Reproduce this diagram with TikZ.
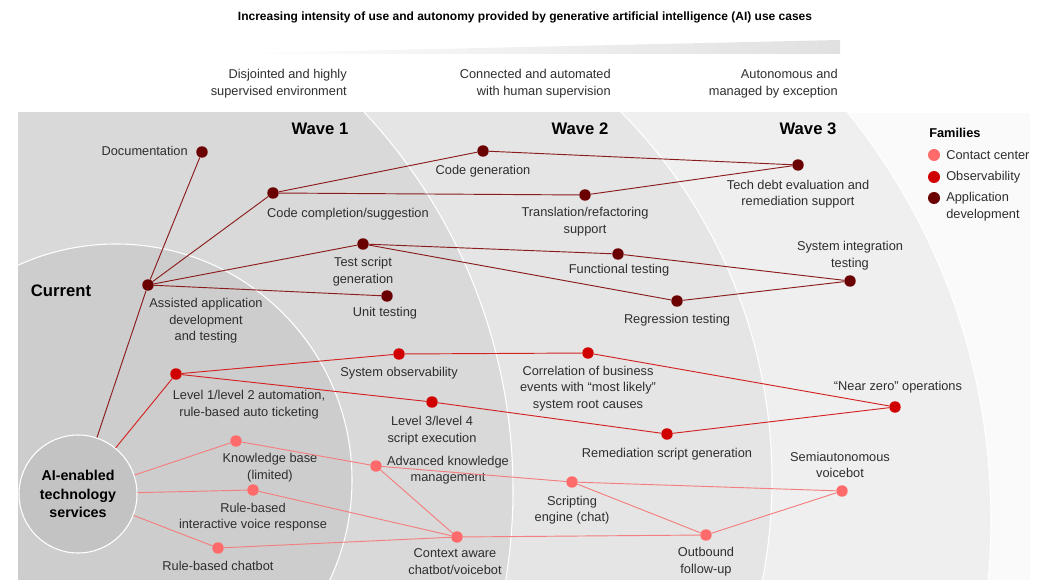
\documentclass[tikz,border=0pt]{standalone}
\usepackage{fontspec}
\setmainfont{Liberation Sans}
\usetikzlibrary{positioning}
\definecolor{ccdot}{HTML}{FF6B6B}
\definecolor{obsdot}{HTML}{D00000}
\definecolor{appdot}{HTML}{6B0000}
\definecolor{ccline}{HTML}{F47E7E}
\definecolor{obsline}{HTML}{D42222}
\definecolor{appline}{HTML}{8A1C1C}
\definecolor{txt}{HTML}{2E2E2E}
\definecolor{band}{HTML}{FAFAFA}
\definecolor{wavethree}{HTML}{EFEFEF}
\definecolor{wavetwo}{HTML}{E5E5E5}
\definecolor{waveone}{HTML}{D9D9D9}
\definecolor{current}{HTML}{CDCDCD}
\definecolor{aicore}{HTML}{C3C3C3}
\begin{document}
\begin{tikzpicture}[x=0.75pt,y=-0.75pt,
    dot/.style={circle,inner sep=0pt,minimum size=8.6pt},
    app node/.style={dot,fill=appdot},
    obs node/.style={dot,fill=obsdot},
    cc node/.style={dot,fill=ccdot},
    app link/.style={draw=appline,line width=0.7pt},
    obs link/.style={draw=obsline,line width=0.7pt},
    cc link/.style={draw=ccline,line width=0.7pt},
    lbl/.style={inner sep=0pt,align=center,text=txt,font=\fontsize{9.6}{12.4}\selectfont},
    wave/.style={inner sep=0pt,font=\fontsize{12.5}{14}\selectfont\bfseries},
    zone/.style={draw=white,line width=0.8pt}
  ]
  \useasboundingbox (0,0) rectangle (1042,580);

  % background zones
  \fill[band] (18,113) rectangle (1030,580);
  \begin{scope}
    \clip (18,113) rectangle (1030,580);
    \filldraw[zone,fill=wavethree] (340,520) circle[radius=651];
    \filldraw[zone,fill=wavetwo] (248,480) circle[radius=524];
    \filldraw[zone,fill=waveone] (-41,490) circle[radius=554];
    \filldraw[zone,fill=current] (116,480) circle[radius=236];
  \end{scope}
  \shade[left color=white,right color=black!12] (210,54) -- (840,40) -- (840,54) -- cycle;

  \node[inner sep=0pt,font=\fontsize{9}{11}\selectfont\bfseries] (title) at (525,17)
    {Increasing intensity of use and autonomy provided by generative artificial intelligence (AI) use cases};
  \node[lbl,align=right,anchor=east] (hone) at (347,83.5) {Disjointed and highly\\supervised environment};
  \node[lbl,align=right,anchor=east] (htwo) at (611,83.5) {Connected and automated\\with human supervision};
  \node[lbl,align=right,anchor=east] (hthree) at (838,83.5) {Autonomous and\\managed by exception};

  \node[wave] (wone) at (320,129) {Wave 1};
  \node[wave] (wtwo) at (580,129) {Wave 2};
  \node[wave] (wthree) at (808,129) {Wave 3};
  \node[wave] (cur) at (61,291) {Current};

  \node[circle,fill=aicore,draw=white,line width=0.8pt,minimum size=88.5pt,inner sep=0pt,
        align=center,font=\fontsize{10.7}{13.9}\selectfont\bfseries] (ai) at (78,494)
    {AI-enabled\\technology\\services};

  % application development
  \node[app node] (doc) at (202,152) {};
  \node[app node] (aadt) at (148,285) {};
  \node[app node] (ccs) at (273,193) {};
  \node[app node] (cg) at (483,151) {};
  \node[app node] (trs) at (585,195) {};
  \node[app node] (tde) at (798,165) {};
  \node[app node] (tsg) at (363,244) {};
  \node[app node] (ut) at (387,296) {};
  \node[app node] (ft) at (618,254) {};
  \node[app node] (rt) at (677,301) {};
  \node[app node] (sit) at (850,281) {};

  \node[lbl,anchor=east] (doc-l) at (188,151) {Documentation};
  \node[lbl] (aadt-l) at (206,321) {Assisted application\\development\\and testing};
  \node[lbl] (ccs-l) at (348,214) {Code completion/suggestion};
  \node[lbl] (cg-l) at (483,171) {Code generation};
  \node[lbl] (trs-l) at (585,221.5) {Translation/refactoring\\support};
  \node[lbl] (tde-l) at (798,194) {Tech debt evaluation and\\remediation support};
  \node[lbl] (tsg-l) at (363,271.5) {Test script\\generation};
  \node[lbl] (ut-l) at (385,313) {Unit testing};
  \node[lbl] (ft-l) at (619,270) {Functional testing};
  \node[lbl] (rt-l) at (677,320) {Regression testing};
  \node[lbl] (sit-l) at (850,255.5) {System integration\\testing};

  \path
   (ai) edge[app link] (aadt)
   (aadt) edge[app link] (doc)
   (aadt) edge[app link] (ccs)
   (aadt) edge[app link] (tsg)
   (aadt) edge[app link] (ut)
   (ccs) edge[app link] (cg)
   (ccs) edge[app link] (trs)
   (cg) edge[app link] (tde)
   (trs) edge[app link] (tde)
   (tsg) edge[app link] (ft)
   (tsg) edge[app link] (rt)
   (ft) edge[app link] (sit)
   (rt) edge[app link] (sit);

  % observability
  \node[obs node] (lot) at (176,374) {};
  \node[obs node] (so) at (399,354) {};
  \node[obs node] (ltf) at (432,402) {};
  \node[obs node] (cbe) at (588,353) {};
  \node[obs node] (nzo) at (895,407) {};
  \node[obs node] (rsg) at (667,434) {};

  \node[lbl] (lot-l) at (249,404.5) {Level 1/level 2 automation,\\rule-based auto ticketing};
  \node[lbl] (so-l) at (399,373) {System observability};
  \node[lbl] (ltf-l) at (432,430.5) {Level 3/level 4\\script execution};
  \node[lbl] (cbe-l) at (588,388.5) {Correlation of business\\events with “most likely”\\system root causes};
  \node[lbl] (nzo-l) at (898,387) {“Near zero” operations};
  \node[lbl] (rsg-l) at (667,454) {Remediation script generation};

  \path
   (ai) edge[obs link] (lot)
   (lot) edge[obs link] (so)
   (lot) edge[obs link] (ltf)
   (so) edge[obs link] (cbe)
   (ltf) edge[obs link] (rsg)
   (cbe) edge[obs link] (nzo)
   (rsg) edge[obs link] (nzo);

  % contact center
  \node[cc node] (kb) at (236,441) {};
  \node[cc node] (ivr) at (253,490) {};
  \node[cc node] (rbc) at (218,548) {};
  \node[cc node] (akm) at (376,466) {};
  \node[cc node] (cac) at (457,537) {};
  \node[cc node] (se) at (572,482) {};
  \node[cc node] (ofu) at (706,535) {};
  \node[cc node] (sav) at (842,491) {};

  \node[lbl] (kb-l) at (270,467.5) {Knowledge base\\(limited)};
  \node[lbl] (ivr-l) at (253,517) {Rule-based\\interactive voice response};
  \node[lbl] (rbc-l) at (218,566) {Rule-based chatbot};
  \node[lbl] (akm-l) at (448,470) {Advanced knowledge\\management};
  \node[lbl] (cac-l) at (455,561.5) {Context aware\\chatbot/voicebot};
  \node[lbl] (se-l) at (572,510) {Scripting\\engine (chat)};
  \node[lbl] (ofu-l) at (706,561.5) {Outbound\\follow-up};
  \node[lbl] (sav-l) at (840,465) {Semiautonomous\\voicebot};

  \path
   (ai) edge[cc link] (kb)
   (ai) edge[cc link] (ivr)
   (ai) edge[cc link] (rbc)
   (kb) edge[cc link] (akm)
   (ivr) edge[cc link] (cac)
   (rbc) edge[cc link] (cac)
   (akm) edge[cc link] (cac)
   (akm) edge[cc link] (se)
   (cac) edge[cc link] (ofu)
   (se) edge[cc link] (ofu)
   (se) edge[cc link] (sav)
   (ofu) edge[cc link] (sav);

  % legend
  \node[inner sep=0pt,anchor=west,font=\fontsize{9.6}{12}\selectfont\bfseries] (fam) at (929,133) {Families};
  \node[cc node,minimum size=9pt] (key-cc) at (934,155) {};
  \node[obs node,minimum size=9pt] (key-obs) at (934,177) {};
  \node[app node,minimum size=9pt] (key-app) at (934,198) {};
  \node[lbl,anchor=west] (key-cc-l) at (946,155) {Contact center};
  \node[lbl,anchor=west] (key-obs-l) at (946,177) {Observability};
  \node[lbl,anchor=north west,align=left] (key-app-l) at (946,192) {Application\\development};
\end{tikzpicture}
\end{document}
